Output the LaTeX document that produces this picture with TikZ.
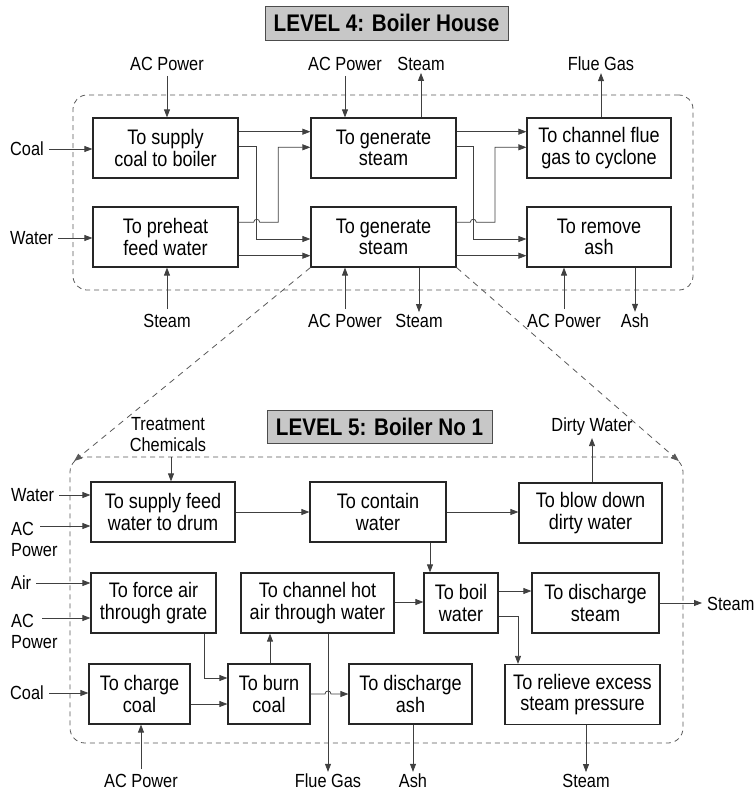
\documentclass[tikz,border=0pt]{standalone}
\usepackage{fontspec}
\setmainfont{Liberation Sans}[FakeStretch=0.86]
\usetikzlibrary{arrows.meta}
\begin{document}
\begin{tikzpicture}[x=1pt,y=-1pt,
  fn/.style={draw=black!85, line width=1.2pt, align=center, inner sep=0pt,
    minimum height=60pt, font=\fontsize{21}{21.7}\selectfont},
  lbl/.style={inner sep=2pt, font=\fontsize{19}{21}\selectfont},
  headbox/.style={draw=black!70, line width=0.8pt, fill=black!22, inner sep=0pt,
    font=\bfseries\fontsize{24}{26}\selectfont},
  flow/.style={draw=black!75, line width=0.75pt, -{Triangle[length=8pt,width=6pt]}},
  fromlbl/.style={flow, shorten <=3pt},
  bound/.style={draw=black!65, dash pattern=on 5pt off 4pt, line width=0.8pt,
    rounded corners=14pt, inner sep=0pt},
  zoomline/.style={draw=black!65, line width=0.8pt, dash pattern=on 6pt off 5pt,
    -{Triangle[length=8pt,width=6pt]}}
]
\useasboundingbox (0,0) rectangle (754,793);

% ---------------- Level 4: boiler house ----------------
\node[headbox, minimum width=243pt, minimum height=34pt] (h4) at (386.5,23) {LEVEL 4: Boiler House};
\node[bound, minimum width=620pt, minimum height=195pt] (L4) at (383,192.5) {};

\node[fn, minimum width=145pt] (A) at (165.5,148) {To supply\\coal to boiler};
\node[fn, minimum width=145pt] (B) at (383.5,148) {To generate\\steam};
\node[fn, minimum width=144pt] (C) at (599,148) {To channel flue\\gas to cyclone};
\node[fn, minimum width=145pt] (D) at (165.5,237) {To preheat\\feed water};
\node[fn, minimum width=145pt] (E) at (383.5,237) {To generate\\steam};
\node[fn, minimum width=144pt] (F) at (599,237) {To remove\\ash};

\node[lbl, anchor=west] (coal4) at (8,149) {Coal};
\node[lbl, anchor=west] (water4) at (8,238) {Water};
\node[lbl] (acA) at (167,64) {AC Power};
\node[lbl] (acB) at (345,64) {AC Power};
\node[lbl] (stB) at (421,64) {Steam};
\node[lbl] (flC) at (601,64) {Flue Gas};
\node[lbl] (stD) at (167,321) {Steam};
\node[lbl] (acE) at (345,321) {AC Power};
\node[lbl] (stE) at (419,321) {Steam};
\node[lbl] (acF) at (564,321) {AC Power};
\node[lbl] (ashF) at (635,321) {Ash};

% inputs and outputs
\draw[fromlbl] (coal4.east) -- (coal4.east -| A.west);
\draw[fromlbl] (water4.east) -- (water4.east -| D.west);
\draw[fromlbl] (acA.south) -- (acA.south |- A.north);
\draw[fromlbl] (acB.south) -- (acB.south |- B.north);
\draw[flow] (B.north -| stB.south) -- (stB.south);
\draw[flow] (C.north -| flC.south) -- (flC.south);
\draw[fromlbl] (stD.north) -- (stD.north |- D.south);
\draw[fromlbl] (acE.north) -- (acE.north |- E.south);
\draw[flow] (E.south -| stE.north) -- (stE.north);
\draw[fromlbl] (acF.north) -- (acF.north |- F.south);
\draw[flow] (F.south -| ashF.north) -- (ashF.north);

% internal flows, left column to middle column
\draw[flow] (A.east |- 0,131.7) -- (B.west |- 0,131.7);
\draw[flow] (A.east |- 0,146.7) -- (256.7,146.7) -- (256.7,239) -- (E.west |- 0,239);
\draw[flow] (D.east |- 0,222.3) -- (253.7,222.3)
  .. controls (253.7,218.3) and (259.7,218.3) .. (259.7,222.3)
  -- (278.3,222.3) -- (278.3,147.3) -- (B.west |- 0,147.3);
\draw[flow] (D.east |- 0,255.7) -- (E.west |- 0,255.7);

% internal flows, middle column to right column
\draw[flow] (B.east |- 0,131.7) -- (C.west |- 0,131.7);
\draw[flow] (B.east |- 0,146.7) -- (473.3,146.7) -- (473.3,239) -- (F.west |- 0,239);
\draw[flow] (E.east |- 0,222.3) -- (470.3,222.3)
  .. controls (470.3,218.3) and (476.3,218.3) .. (476.3,222.3)
  -- (495,222.3) -- (495,147.3) -- (C.west |- 0,147.3);
\draw[flow] (E.east |- 0,255.7) -- (F.west |- 0,255.7);

% ---------------- Level 5: boiler no 1 ----------------
\node[headbox, minimum width=225pt, minimum height=33pt] (h5) at (379.5,426.5) {LEVEL 5: Boiler No 1};
\node[bound, rounded corners=15pt, minimum width=613pt, minimum height=286pt] (L5) at (376.5,600) {};

% expansion of the lower generate-steam function
\draw[zoomline] (E.south west) -- ([xshift=4.5pt,yshift=-4.5pt]L5.north west);
\draw[zoomline] (E.south east) -- ([xshift=-4.5pt,yshift=-4.5pt]L5.north east);

\node[fn, minimum width=144pt] (S) at (163,512) {To supply feed\\water to drum};
\node[fn, minimum width=136pt] (K) at (378,512) {To contain\\water};
\node[fn, minimum width=143pt] (BD) at (590.5,513) {To blow down\\dirty water};
\node[fn, minimum width=125pt] (FA) at (153.5,603) {To force air\\through grate};
\node[fn, minimum width=153pt] (CH) at (317.5,603) {To channel hot\\air through water};
\node[fn, minimum width=74pt] (BW) at (461,603) {To boil\\water};
\node[fn, minimum width=127pt] (DS) at (595.5,603) {To discharge\\steam};
\node[fn, minimum width=101pt] (CC) at (139.5,694) {To charge\\coal};
\node[fn, minimum width=82pt] (BC) at (269,694) {To burn\\coal};
\node[fn, minimum width=123pt] (DA) at (410.5,694) {To discharge\\ash};
\node[fn, minimum width=155pt] (RE) at (582.5,694.5) {To relieve excess\\steam pressure};

\node[lbl, align=center] (tc) at (168,435) {Treatment\\Chemicals};
\node[lbl] (dw) at (592,427) {Dirty Water};
\node[lbl, anchor=west] (wat5) at (9,495) {Water};
\node[lbl, anchor=west, align=left] (ac5a) at (9,539.5) {AC\\Power};
\node[lbl, anchor=west] (air5) at (9,583) {Air};
\node[lbl, anchor=west, align=left] (ac5b) at (9,631.5) {AC\\Power};
\node[lbl, anchor=west] (coal5) at (8,693) {Coal};
\node[lbl] (ac5c) at (141,781) {AC Power};
\node[lbl] (fg5) at (328,781) {Flue Gas};
\node[lbl] (ash5) at (413,781) {Ash};
\node[lbl] (st5r) at (586,781) {Steam};
\node[lbl, anchor=west] (st5d) at (705,604) {Steam};

\coordinate (ac5a-o) at (40,526);
\coordinate (ac5b-o) at (42,618);

% inputs and outputs
\draw[fromlbl] ([xshift=3pt]tc.south) -- ([xshift=3pt]tc.south |- S.north);
\draw[fromlbl] (wat5.east) -- (wat5.east -| S.west);
\draw[flow] (ac5a-o) -- (ac5a-o -| S.west);
\draw[fromlbl] (air5.east) -- (air5.east -| FA.west);
\draw[flow] (ac5b-o) -- (ac5b-o -| FA.west);
\draw[fromlbl] (coal5.east) -- (coal5.east -| CC.west);
\draw[fromlbl] (ac5c.north) -- (ac5c.north |- CC.south);
\draw[flow] (BD.north -| dw.south) -- (dw.south);
\draw[flow] (CH.south -| fg5.north) -- (fg5.north);
\draw[flow] (DA.south -| ash5.north) -- (ash5.north);
\draw[flow] (RE.south -| st5r.north) -- (st5r.north);
\draw[flow, shorten >=3pt] (DS.east) -- (DS.east -| st5d.west);

% internal flows
\draw[flow] (S.east) -- (K.west);
\draw[flow] (K.east) -- (K.east -| BD.west);
\draw[flow] (K.south -| 430,0) -- (BW.north -| 430,0);
\draw[flow] (CH.east |- 0,602) -- (BW.west |- 0,602);
\draw[flow] (BW.east |- 0,591) -- (DS.west |- 0,591);
\draw[flow] (BW.east |- 0,616) -- (518,616) -- (RE.north -| 518,0);
\draw[flow] (FA.south -| 204,0) -- (204,678) -- (BC.west |- 0,678);
\draw[flow] (CC.east |- 0,704) -- (BC.west |- 0,704);
\draw[flow] (BC.north -| 270,0) -- (CH.south -| 270,0);
\draw[flow] (BC.east) -- (325,694)
  .. controls (325,690) and (331,690) .. (331,694) -- (DA.west);

\end{tikzpicture}
\end{document}
